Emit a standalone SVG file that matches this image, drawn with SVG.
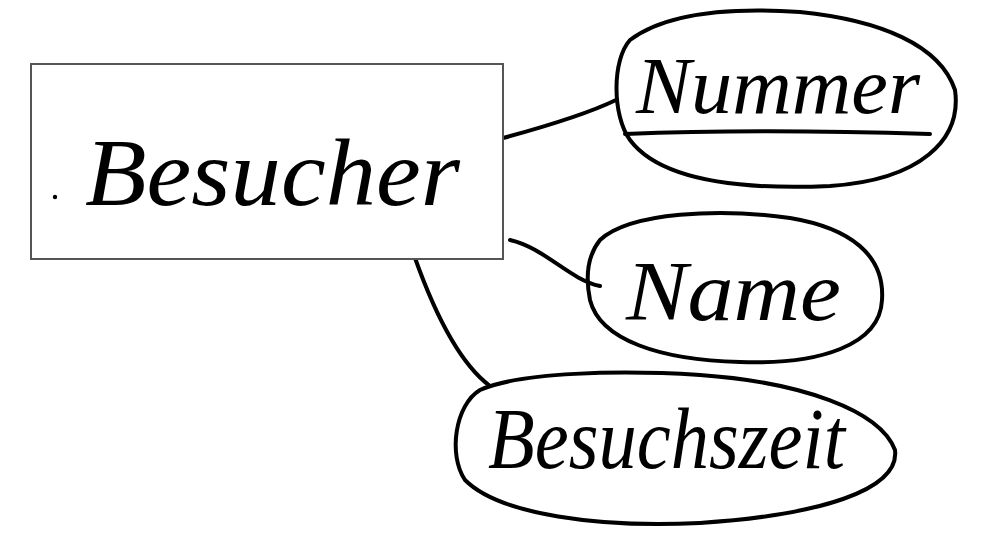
<svg xmlns="http://www.w3.org/2000/svg" width="986" height="544" viewBox="0 0 986 544">
<style>
.hand{fill:none;stroke:#000;stroke-width:4;stroke-linecap:round;stroke-linejoin:round}
.box{fill:#fff;stroke:#555;stroke-width:2}
.lbl{font-family:"Liberation Serif",serif;font-style:italic;fill:#000}
</style>
<rect width="986" height="544" fill="#fff"/>
<g id="connectors">
<path class="hand" d="M503,138 C540,128 585,115 616,100"/>
<path class="hand" d="M510,240 C545,248 570,280 600,286"/>
<path class="hand" d="M415,258 C430,300 455,360 490,386"/>
</g>
<g id="besucher">
<rect class="box" x="31" y="64" width="472" height="195"/>
<circle cx="55" cy="197" r="2.2" fill="#000"/>
<text class="lbl" x="85" y="205" font-size="96" textLength="375" lengthAdjust="spacingAndGlyphs">Besucher</text>
</g>
<g id="nummer">
<path class="hand" d="M630,40 C670,10 740,8 800,12 C880,20 940,45 955,90 C962,140 920,180 830,186 C740,190 660,180 630,140 C612,115 612,60 630,40 Z"/>
<text class="lbl" x="636" y="113" font-size="80" textLength="284" lengthAdjust="spacingAndGlyphs">Nummer</text>
<path class="hand" d="M625,134 C700,131 800,130 930,134"/>
</g>
<g id="name">
<path class="hand" d="M600,240 C630,212 720,208 790,218 C850,228 885,255 882,300 C880,345 820,365 740,362 C660,360 600,340 590,300 C585,275 588,255 600,240 Z"/>
<text class="lbl" x="626" y="320" font-size="84" textLength="215" lengthAdjust="spacingAndGlyphs">Name</text>
</g>
<g id="besuchszeit">
<path class="hand" d="M480,390 C520,372 620,370 700,375 C800,382 880,410 895,450 C900,490 820,515 700,523 C600,528 500,515 465,480 C448,455 455,405 480,390 Z"/>
<text class="lbl" x="488" y="468" font-size="86" textLength="357" lengthAdjust="spacingAndGlyphs">Besuchszeit</text>
</g>
</svg>
